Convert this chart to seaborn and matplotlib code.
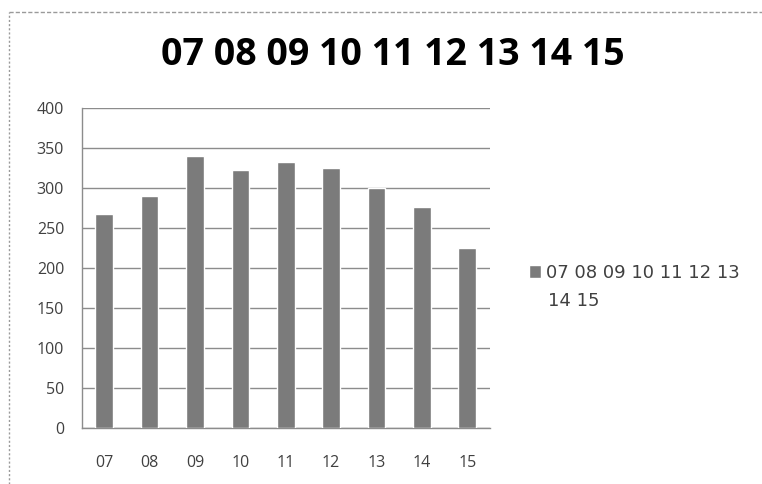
import pandas as pd
import matplotlib
matplotlib.use("Agg")
import matplotlib.pyplot as plt
from matplotlib.lines import Line2D
import seaborn as sns

# Data
categories = ["07", "08", "09", "10", "11", "12", "13", "14", "15"]
values = [268, 290, 340, 323, 333, 325, 301, 277, 225]
yticks = [0, 50, 100, 150, 200, 250, 300, 350, 400]
title_text = "07 08 09 10 11 12 13 14 15"
legend_lines = ["07 08 09 10 11 12 13", "14 15"]

sns.set_style("white")
plt.rcParams['font.family'] = ['Open Sans', 'DejaVu Sans']

BAR = '#7b7b7b'
GRID = '#8c8c8c'
TXT = '#404040'

df = pd.DataFrame({'cat': categories, 'val': values})

fig = plt.figure(figsize=(7.62, 4.84), dpi=100)
ax = fig.add_axes([0.107, 0.115, 0.536, 0.661])

sns.barplot(data=df, x='cat', y='val', color=BAR, width=0.39,
            saturation=1, ax=ax, label=legend_lines[0], zorder=3)

ax.set_ylim(0, 400)
ax.set_xlim(-0.5, len(categories) - 0.5)
ax.set_yticks(yticks)
ax.set_xlabel('')
ax.set_ylabel('')

# Horizontal gridlines
ax.yaxis.grid(True, color=GRID, linewidth=1.0, zorder=0)
ax.set_axisbelow(True)

for side in ['top', 'right']:
    ax.spines[side].set_visible(False)
for side in ['left', 'bottom']:
    ax.spines[side].set_color(GRID)
    ax.spines[side].set_linewidth(1.0)

# y ticks outward, x ticks at category boundaries
ax.tick_params(axis='y', which='major', direction='out', length=4.5, width=1,
               color=GRID, labelsize=11.5, labelcolor=TXT, pad=8)
ax.tick_params(axis='x', which='major', length=0, labelsize=11.5,
               labelcolor=TXT, pad=19)
ax.set_xticks([i + 0.5 for i in range(-1, len(categories))], minor=True)
ax.tick_params(axis='x', which='minor', direction='out', length=4.5, width=1,
               color=GRID)

fig.text(0.515, 0.886, title_text, ha='center', va='center',
         fontsize=27, fontweight='bold', color='black')

# Legend: handle beside the first line, wrapped second line below
leg = ax.legend(loc='center left', bbox_to_anchor=(0.694, 0.436),
                bbox_transform=fig.transFigure, frameon=False,
                borderpad=0, borderaxespad=0,
                prop={'family': 'DejaVu Sans', 'size': 13},
                handlelength=0.67, handleheight=0.67,
                handletextpad=0.3, labelcolor=TXT)
fig.text(0.719, 0.378, legend_lines[1], ha='left', va='center',
         family='DejaVu Sans', fontsize=13, color=TXT)

# Dashed frame around the chart area (top and left visible)
fig.add_artist(Line2D([0.012, 1.0], [0.975, 0.975], transform=fig.transFigure,
                      color='#9a9a9a', linestyle=(0, (3, 1.5)), linewidth=1))
fig.add_artist(Line2D([0.012, 0.012], [0.0, 0.975], transform=fig.transFigure,
                      color='#9a9a9a', linestyle=(0, (1.5, 1.5)), linewidth=1))

fig.savefig('out.png', dpi=100)
